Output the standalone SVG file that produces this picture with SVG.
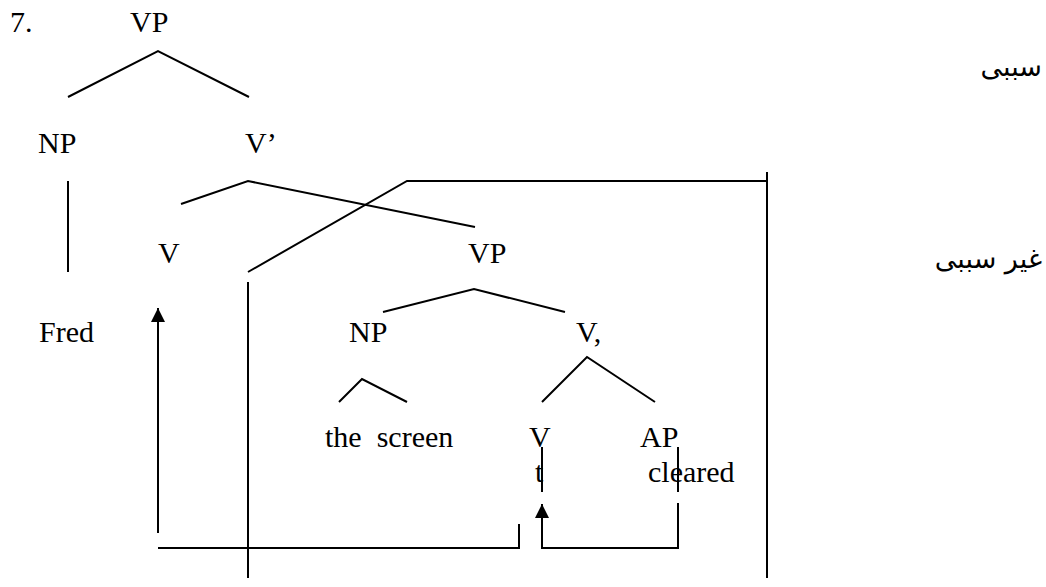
<svg xmlns="http://www.w3.org/2000/svg" width="1046" height="587" viewBox="0 0 1046 587">
  <style>
    .lbl { font-family: "Liberation Serif", "Times New Roman", serif; font-size: 30px; fill: #000; }
    .fa { font-family: "DejaVu Sans", "Noto Sans", sans-serif; font-size: 27px; fill: #000; }
    .ln { fill: none; stroke: #000; stroke-width: 2; }
  </style>
  <defs>
    <marker id="head" markerUnits="userSpaceOnUse" markerWidth="14" markerHeight="14" viewBox="0 0 14 14" refX="14" refY="7" orient="auto">
      <path d="M0,0 L14,7 L0,14 z" fill="#000"/>
    </marker>
  </defs>
  <rect width="1046" height="587" fill="#fff"/>

  <!-- example number -->
  <text class="lbl" x="10" y="32">7.</text>

  <!-- tree nodes -->
  <g id="n-vp-top"><text class="lbl" x="130" y="32">VP</text></g>
  <g id="n-np-subj"><text class="lbl" x="38" y="153">NP</text></g>
  <g id="n-vbar"><text class="lbl" x="245" y="153">V’</text></g>
  <g id="n-v-head"><text class="lbl" x="158" y="263">V</text></g>
  <g id="n-vp-inner"><text class="lbl" x="468" y="263">VP</text></g>
  <g id="n-fred"><text class="lbl" x="39" y="342">Fred</text></g>
  <g id="n-np-obj"><text class="lbl" x="349" y="342">NP</text></g>
  <g id="n-vcomma"><text class="lbl" x="576" y="342">V,</text></g>
  <g id="n-the-screen"><text class="lbl" x="325" y="447" xml:space="preserve" style="white-space:pre">the  screen</text></g>
  <g id="n-v-low"><text class="lbl" x="529" y="447">V</text></g>
  <g id="n-ap"><text class="lbl" x="640" y="447">AP</text></g>
  <g id="n-trace"><text class="lbl" x="535" y="482">t</text></g>
  <g id="n-cleared"><text class="lbl" x="648" y="482">cleared</text></g>

  <!-- side labels -->
  <g id="n-causative"><text class="fa" x="1042" y="76" text-anchor="end">سببی</text></g>
  <g id="n-noncausative"><text class="fa" x="1042" y="268" text-anchor="end">غیر سببی</text></g>

  <!-- branches, box and movement arrows -->
  <g id="connectors" class="ln">
    <polyline class="ln" points="68,97 158,51 249,97"/>
    <line class="ln" x1="68" y1="181" x2="68" y2="272"/>
    <polyline class="ln" points="181,204 248,181 475,227"/>
    <polyline class="ln" points="248,272 407,181 767,181"/>
    <line class="ln" x1="767" y1="172" x2="767" y2="578"/>
    <line class="ln" x1="248" y1="282" x2="248" y2="578"/>
    <polyline class="ln" points="383,312 474,289 565,312"/>
    <polyline class="ln" points="542,402 587,357 655,402"/>
    <polyline class="ln" points="339,402 362,379 407,402"/>
    <line class="ln" x1="542" y1="447" x2="542" y2="492"/>
    <line class="ln" x1="678" y1="447" x2="678" y2="492"/>
    <line class="ln" x1="158" y1="533" x2="158" y2="308" marker-end="url(#head)"/>
    <polyline class="ln" points="158,548 519,548 519,524"/>
    <polyline class="ln" points="678,503 678,548 542,548 542,504" marker-end="url(#head)"/>
  </g>
</svg>
